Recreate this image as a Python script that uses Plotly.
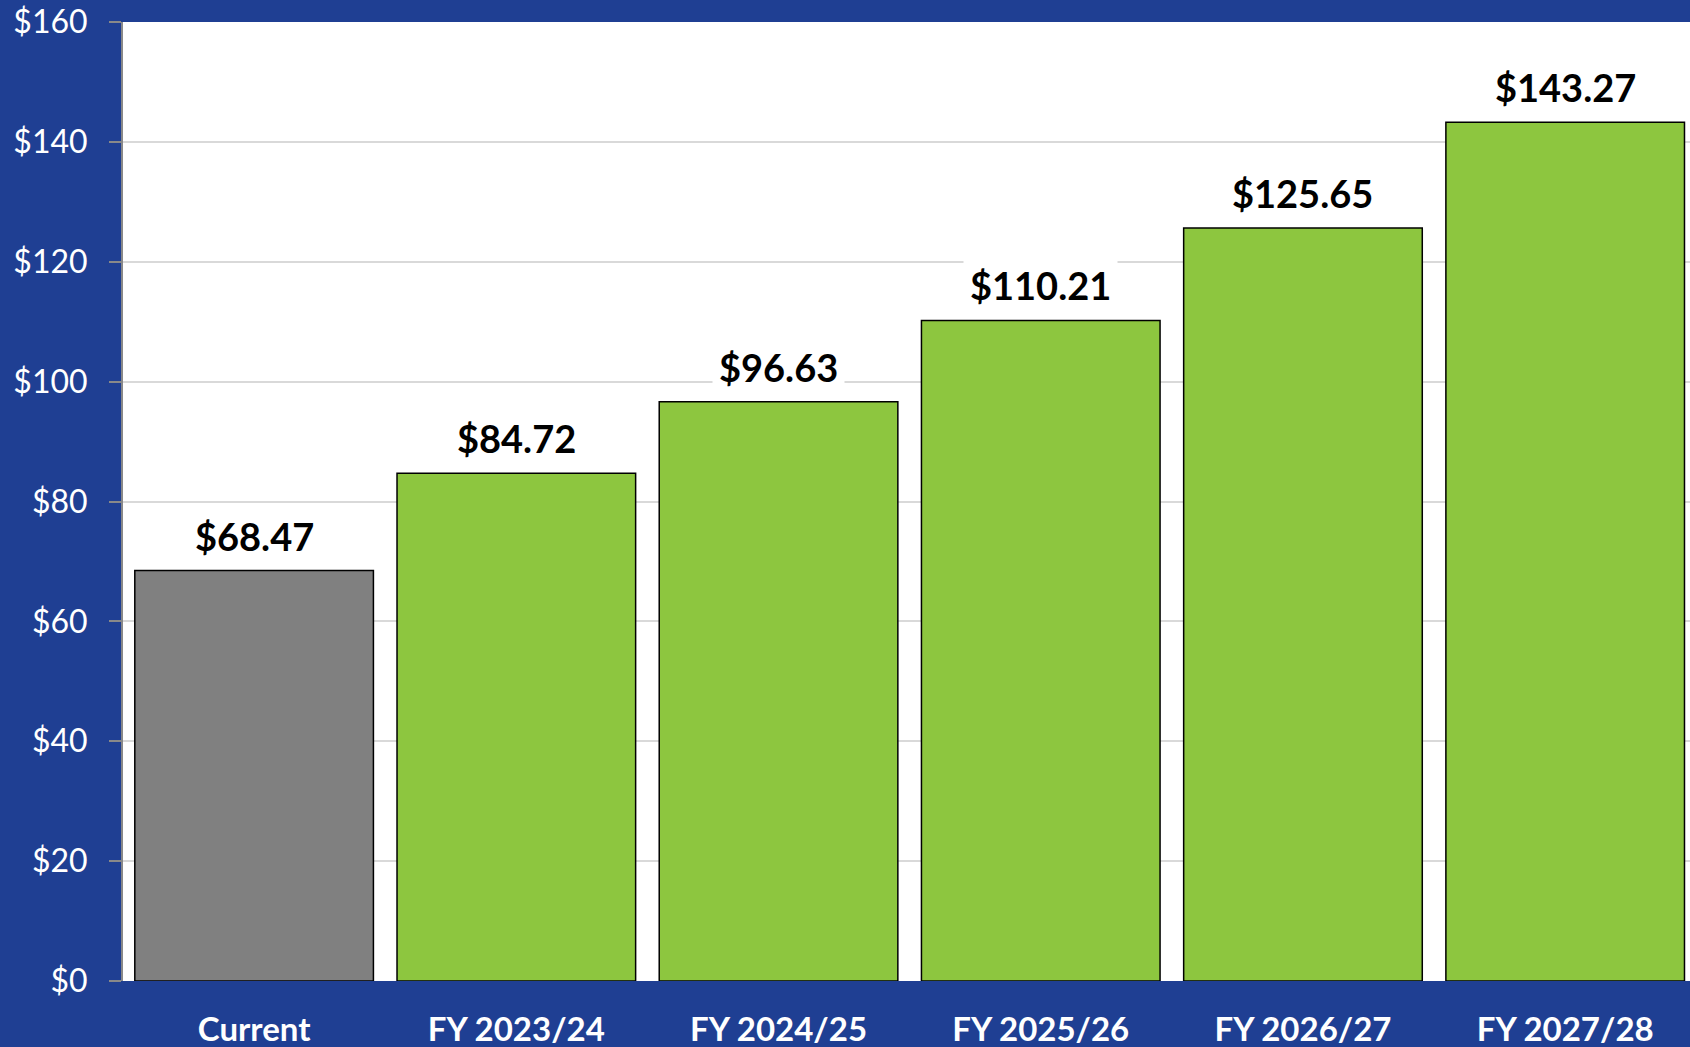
import plotly.graph_objects as go

categories = ["Current", "FY 2023/24", "FY 2024/25", "FY 2025/26", "FY 2026/27", "FY 2027/28"]
values = [68.47, 84.72, 96.63, 110.21, 125.65, 143.27]
bar_colors = ["#808080", "#8DC63F", "#8DC63F", "#8DC63F", "#8DC63F", "#8DC63F"]
y_tick_vals = [0, 20, 40, 60, 80, 100, 120, 140, 160]
y_tick_text = ["$" + str(v) for v in y_tick_vals]

BLUE = "#1F3F93"
FONT = "Lato"

fig = go.Figure()
fig.add_trace(go.Bar(
    x=categories, y=values,
    marker=dict(color=bar_colors, line=dict(color="#000000", width=1.5)),
    hoverinfo="skip",
))

for c, v in zip(categories, values):
    fig.add_annotation(
        x=c, y=v, text="<b>$%.2f</b>" % v, showarrow=False,
        yanchor="middle", yshift=35,
        font=dict(family=FONT, size=38, color="#000000"),
        bgcolor="#FFFFFF", borderpad=6,
    )

fig.update_layout(
    width=1690, height=1047,
    margin=dict(l=123, r=0, t=22, b=66),
    paper_bgcolor=BLUE, plot_bgcolor="#FFFFFF",
    bargap=0.09, showlegend=False,
    font=dict(family=FONT),
)
fig.update_xaxes(
    range=[-0.5, 5.476],
    showgrid=False, showline=False, ticks="",
    tickfont=dict(family=FONT, size=33, color="#FFFFFF", weight="bold"),
    ticklabelstandoff=26,
)
fig.update_yaxes(
    range=[0, 160], tickvals=y_tick_vals, ticktext=y_tick_text,
    showgrid=True, gridcolor="#D9D9D9", gridwidth=1.5,
    showline=True, linecolor="#898989", linewidth=2,
    ticks="outside", ticklen=12, tickcolor="#898989", tickwidth=2,
    tickfont=dict(family=FONT, size=32, color="#FFFFFF"),
    ticklabelstandoff=15, zeroline=False,
)

fig.write_html(
    "out.html",
    config={"displayModeBar": False},
    post_script="document.body.style.margin='0';document.body.style.overflow='hidden';",
)
